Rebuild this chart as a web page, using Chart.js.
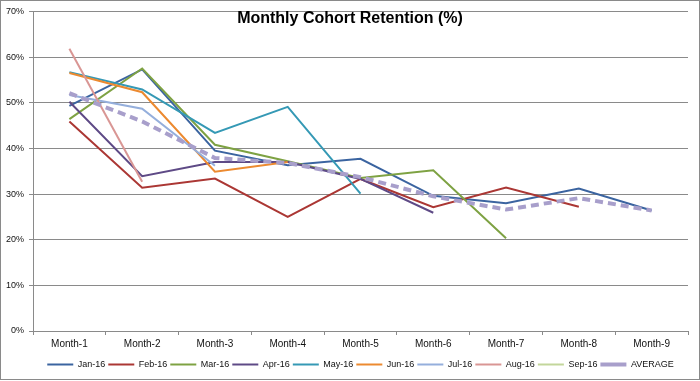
<!DOCTYPE html>
<html>
<head>
<meta charset="utf-8">
<title>Monthly Cohort Retention</title>
<script src="https://cdn.jsdelivr.net/npm/chart.js@4/dist/chart.umd.min.js"></script>
<style>
  html, body { margin: 0; padding: 0; background: #fff; }
  .chart-box {
    position: absolute; left: 0; top: 0;
    width: 698px; height: 378px;
    border: 1px solid #8a8a8a;
    background: #fff;
  }
</style>
</head>
<body>
<div class="chart-box"><canvas id="retentionChart"></canvas></div>
<script>
// ===== DATI =====
const months = ["Month-1", "Month-2", "Month-3", "Month-4", "Month-5", "Month-6", "Month-7", "Month-8", "Month-9"];
const cohorts = ["Jan-16", "Feb-16", "Mar-16", "Apr-16", "May-16", "Jun-16", "Jul-16", "Aug-16", "Sep-16"];

const jan16 = [49.3, 57.3, 39.5, 36.3, 37.7, 29.6, 28.0, 31.2, 26.4];
const feb16 = [45.9, 31.4, 33.4, 25.0, 33.3, 27.1, 31.4, 27.2];
const mar16 = [46.4, 57.5, 40.8, 37.2, 33.5, 35.2, 20.3];
const apr16 = [50.2, 33.9, 37.0, 37.0, 33.3, 25.9];
const may16 = [56.7, 52.9, 43.4, 49.1, 30.1];
const jun16 = [56.5, 52.3, 34.9, 37.0];
const jul16 = [51.7, 48.7, 36.2];
const aug16 = [61.8, 32.7];
const sep16 = [50.4];
const average = [52.1, 45.9, 37.9, 36.8, 33.7, 29.5, 26.6, 29.1, 26.4];

const yTicks = [0, 10, 20, 30, 40, 50, 60, 70];

// colori stile Excel
const cohortColors = ["#3b64a0", "#ab3734", "#7ea243", "#5e4a86", "#3599b5", "#ec8a30", "#95afdc", "#d99694", "#c3d69b"];
const avgColor = "#a89fcb";

const font = "'Liberation Sans', Arial, sans-serif";

// ===== DATASET =====
const cohortSeries = [jan16, feb16, mar16, apr16, may16, jun16, jul16, aug16, sep16];
const datasets = cohortSeries.map((values, i) => ({
  label: cohorts[i],
  data: values,
  borderColor: cohortColors[i],
  backgroundColor: cohortColors[i],
  borderWidth: 2,
  pointRadius: 0,
  tension: 0,
  order: 9 - i, // serie successive sopra, come in Excel
}));
datasets.push({
  label: "AVERAGE",
  data: average,
  borderColor: avgColor,
  backgroundColor: avgColor,
  borderWidth: 4,
  borderDash: [8, 5],
  pointRadius: 0,
  tension: 0,
  order: 0,
});

// ===== GRAFICO =====
const ctx = document.getElementById("retentionChart").getContext("2d");
new Chart(ctx, {
  type: "line",
  data: { labels: months, datasets: datasets },
  options: {
    responsive: true,
    maintainAspectRatio: false,
    animation: false,
    layout: { padding: 0 },
    plugins: {
      tooltip: { enabled: false },
      title: {
        display: true,
        text: "Monthly Cohort Retention (%)",
        color: "#000",
        font: { family: font, size: 16, weight: "bold" },
        padding: { top: 8, bottom: -17 },
      },
      legend: {
        position: "bottom",
        fullSize: false, // centrata sull'area del grafico
        labels: {
          usePointStyle: true,
          pointStyle: "line",
          pointStyleWidth: 26,
          boxHeight: 9,
          padding: 3,
          color: "#111",
          font: { family: font, size: 9 },
          sort: (a, b) => a.datasetIndex - b.datasetIndex,
        },
      },
    },
    scales: {
      x: {
        offset: true,
        afterFit: (scale) => {
          scale.height += 4;
        },
        grid: {
          offset: true,
          drawOnChartArea: false,
          drawTicks: true,
          tickLength: 4,
          color: "#8a8a8a",
        },
        border: { color: "#8a8a8a" },
        ticks: {
          color: "#111",
          padding: 3,
          maxRotation: 0,
          font: { family: font, size: 10 },
        },
      },
      y: {
        min: 0,
        max: 70,
        afterBuildTicks: (scale) => {
          scale.ticks = yTicks.map((v) => ({ value: v }));
        },
        afterFit: (scale) => {
          scale.width = 32;
        },
        grid: { color: "#8a8a8a", tickLength: 4 },
        border: { color: "#8a8a8a" },
        ticks: {
          color: "#111",
          padding: 5,
          font: { family: font, size: 9 },
          callback: (v) => v + "%",
        },
      },
      // asse vuoto a destra: solo margine, così il titolo resta centrato
      yRight: {
        position: "right",
        display: true,
        min: 0,
        max: 70,
        afterFit: (scale) => {
          scale.width = 11;
        },
        grid: { display: false },
        border: { display: false },
        ticks: { display: false },
      },
    },
  },
});
</script>
</body>
</html>
